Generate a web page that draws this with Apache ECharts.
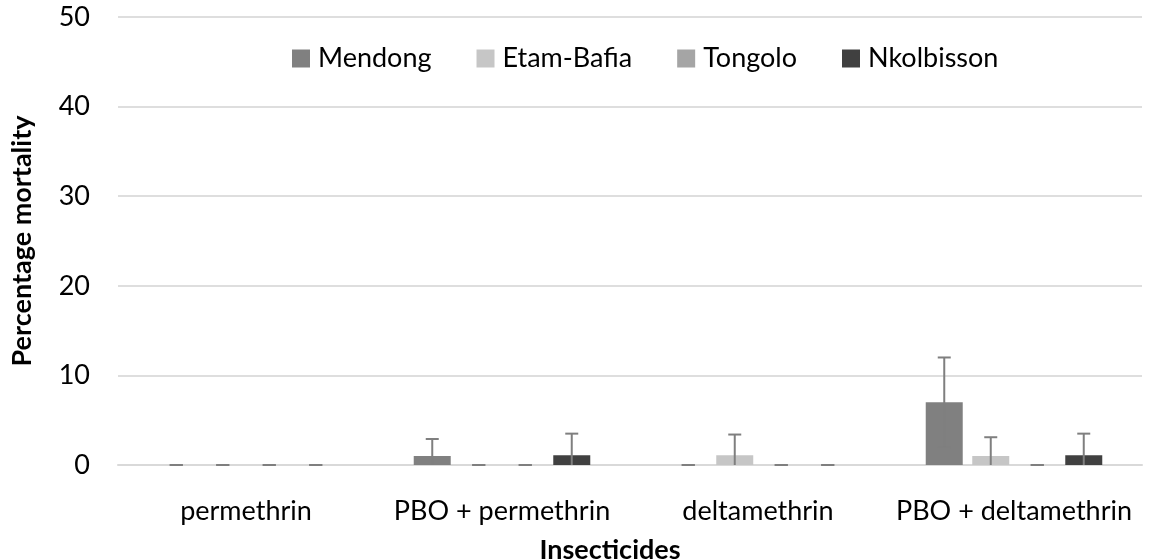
<!DOCTYPE html>
<html>
<head>
<meta charset="utf-8">
<script src="https://cdn.jsdelivr.net/npm/echarts@6/dist/echarts.min.js"></script>
<style>
  html, body { margin: 0; padding: 0; background: #ffffff; }
  #chart { width: 1150px; height: 559px; }
</style>
</head>
<body>
<div id="chart"></div>
<script>
// Insecticide bioassay results: mean percentage mortality per site, with error margins
const categories = ['permethrin', 'PBO + permethrin', 'deltamethrin', 'PBO + deltamethrin'];
const sites = ['Mendong', 'Etam-Bafia', 'Tongolo', 'Nkolbisson'];

const mendong    = [0, 1.0, 0,   7.0];
const etamBafia  = [0, 0,   1.1, 1.0];
const tongolo    = [0, 0,   0,   0];
const nkolbisson = [0, 1.1, 0,   1.1];

const mendongErr    = [0, 1.9, 0,   5.0];
const etamBafiaErr  = [0, 0,   2.3, 2.1];
const tongoloErr    = [0, 0,   0,   0];
const nkolbissonErr = [0, 2.4, 0,   2.4];

const yTicks = [0, 10, 20, 30, 40, 50];

const siteValues = [mendong, etamBafia, tongolo, nkolbisson];
const siteErrors = [mendongErr, etamBafiaErr, tongoloErr, nkolbissonErr];
const siteColors = ['#808080', '#c6c6c6', '#a5a5a5', '#404040'];

const FONT = 'Lato';
const BAR_W = 37;
const BAR_GAP_PX = 9.5;
const CAP_W = 13;
const ERR_COLOR = '#7f7f7f';

const chart = echarts.init(document.getElementById('chart'), null, { renderer: 'canvas' });

// Whiskers with caps, centred on each bar of a series; the lower side stops at the axis
function errorRenderer(seriesIdx) {
  const nSeries = sites.length;
  return function (params, api) {
    const cat = api.value(0);
    const v = api.value(1);
    const e = api.value(2);
    const xc = api.coord([cat, 0])[0] + (seriesIdx - (nSeries - 1) / 2) * (BAR_W + BAR_GAP_PX);
    const lo = Math.max(0, v - e);
    const hi = v + e;
    const yLo = api.coord([cat, lo])[1];
    const yHi = api.coord([cat, hi])[1];
    const style = { stroke: ERR_COLOR, lineWidth: 2 };
    const children = [
      { type: 'line', shape: { x1: xc, y1: yLo, x2: xc, y2: yHi }, style: style },
      { type: 'line', shape: { x1: xc - CAP_W / 2, y1: yHi, x2: xc + CAP_W / 2, y2: yHi }, style: style }
    ];
    if (v - e >= 0) {
      children.push({ type: 'line', shape: { x1: xc - CAP_W / 2, y1: yLo, x2: xc + CAP_W / 2, y2: yLo }, style: style });
    }
    return { type: 'group', children: children };
  };
}

const barSeries = sites.map((name, i) => ({
  name: name,
  type: 'bar',
  data: siteValues[i],
  barWidth: BAR_W,
  barGap: (BAR_GAP_PX / BAR_W * 100).toFixed(1) + '%',
  itemStyle: { color: siteColors[i] },
  emphasis: { disabled: true },
  z: 2
}));

const errSeries = sites.map((name, i) => ({
  name: name + ' error',
  type: 'custom',
  renderItem: errorRenderer(i),
  data: siteValues[i].map((v, c) => [c, v, siteErrors[i][c]]),
  encode: { x: 0, y: 1 },
  silent: true,
  z: 5
}));

chart.setOption({
  animation: false,
  backgroundColor: '#ffffff',
  textStyle: { fontFamily: FONT },
  grid: { left: 118, right: 8, top: 17, bottom: 94, containLabel: false },
  legend: {
    data: sites,
    left: 287,
    top: 40,
    icon: 'rect',
    itemWidth: 18,
    itemHeight: 18,
    itemGap: 45,
    selectedMode: false,
    textStyle: { fontFamily: FONT, fontSize: 27, color: '#000000', padding: [0, 0, 0, 3] }
  },
  graphic: [{
    type: 'text',
    x: 610,
    y: 550,
    style: {
      text: 'Insecticides',
      textAlign: 'center',
      textVerticalAlign: 'middle',
      fontFamily: FONT,
      fontSize: 27,
      fontWeight: 'bold',
      fill: '#000000'
    }
  }],
  xAxis: {
    type: 'category',
    data: categories,
    axisTick: { show: false },
    axisLine: { lineStyle: { color: '#d9d9d9', width: 2 } },
    axisLabel: { fontFamily: FONT, fontSize: 27, color: '#000000', margin: 33, interval: 0 }
  },
  yAxis: {
    type: 'value',
    min: yTicks[0],
    max: yTicks[yTicks.length - 1],
    interval: yTicks[1] - yTicks[0],
    name: 'Percentage mortality',
    nameLocation: 'middle',
    nameGap: 82,
    nameTextStyle: { fontFamily: FONT, fontSize: 27, fontWeight: 'bold', color: '#000000' },
    axisLine: { show: false },
    axisTick: { show: false },
    axisLabel: { fontFamily: FONT, fontSize: 27, color: '#000000', margin: 28 },
    splitLine: { lineStyle: { color: '#dedede', width: 2 } }
  },
  series: barSeries.concat(errSeries)
});
</script>
</body>
</html>
